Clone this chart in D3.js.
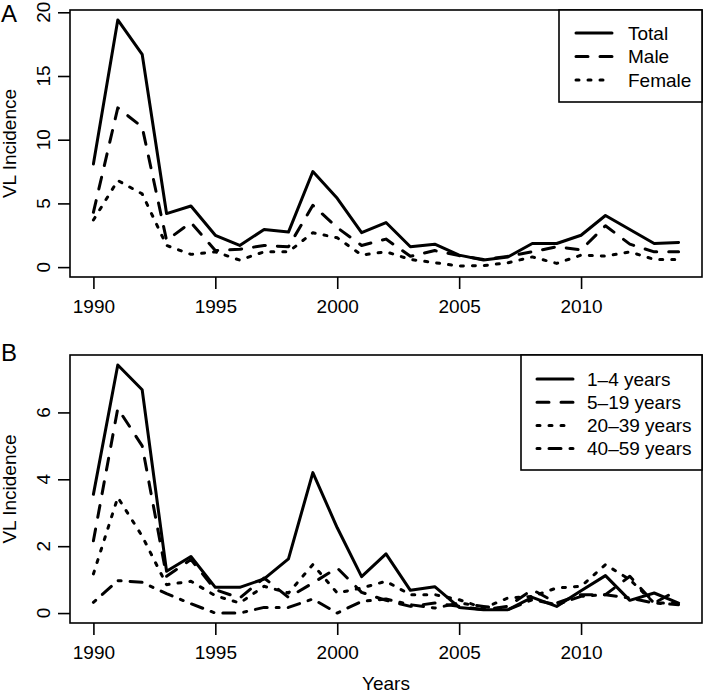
<!DOCTYPE html>
<html><head><meta charset="utf-8">
<script src="https://cdn.jsdelivr.net/npm/d3@7"></script>
<style>
body{margin:0;background:#fff;}
text{font-family:"Liberation Sans",Arial,sans-serif;fill:#000;}
</style></head>
<body><svg id="c" width="705" height="695"></svg>
<script>
// ---- data ----
const years = d3.range(1990, 2015);
const xTicks = [1990, 1995, 2000, 2005, 2010];
const yTicksA = [0, 5, 10, 15, 20];
const yTicksB = [0, 2, 4, 6];

const seriesNamesA = ["Total", "Male", "Female"];
const total  = [8.1,19.4,16.7,4.2,4.8,2.5,1.7,2.95,2.75,7.5,5.4,2.7,3.5,1.6,1.8,0.94,0.55,0.8,1.85,1.85,2.5,4.05,2.95,1.85,1.93];
const male   = [4.3,12.5,11.0,2.1,3.5,1.3,1.4,1.7,1.6,4.85,3.1,1.7,2.2,0.85,1.3,0.9,0.6,0.85,1.2,1.6,1.35,3.25,1.8,1.2,1.2];
const female = [3.7,6.8,5.75,1.7,1.0,1.2,0.55,1.2,1.2,2.7,2.3,0.95,1.2,0.6,0.35,0.08,0.12,0.34,0.8,0.29,0.94,0.86,1.2,0.6,0.6];

const seriesNamesB = ["1\u20134 years", "5\u201319 years", "20\u201339 years", "40\u201359 years"];
const age1_4   = [3.55,7.42,6.68,1.25,1.69,0.77,0.77,1.02,1.62,4.2,2.55,1.09,1.77,0.68,0.79,0.17,0.1,0.1,0.47,0.2,0.67,1.12,0.38,0.6,0.3];
const age5_19  = [2.16,6.12,5.0,1.1,1.6,0.7,0.45,1.05,0.47,0.9,1.35,0.62,0.38,0.2,0.3,0.2,0.1,0.2,0.7,0.3,0.55,0.55,1.1,0.3,0.7];
const age20_39 = [1.17,3.46,2.3,0.85,0.95,0.52,0.3,0.8,0.6,1.45,0.6,0.75,0.95,0.55,0.55,0.4,0.15,0.45,0.5,0.75,0.8,1.45,1.0,0.3,0.3];
const age40_59 = [0.32,0.97,0.92,0.58,0.28,0.0,0.0,0.17,0.17,0.42,0.0,0.35,0.42,0.25,0.15,0.3,0.2,0.1,0.4,0.25,0.5,0.55,0.45,0.3,0.25];

// ---- styles ----
const dashes = ["none", "12,12", "3,9", "3,9,12,9"];
const FS = 19;

const svg = d3.select("#c");

function panel(opts){
  const {top, bottom, left, right, yDomain, yTicks, series, names, letter, legend} = opts;
  const x = d3.scaleLinear().domain([1989.04, 2014.96]).range([left, right]);
  const y = d3.scaleLinear().domain(yDomain).range([bottom, top]);
  const g = svg.append("g");

  const line = d3.line().x((d,i)=>x(years[i])).y(d=>y(d));
  series.forEach((s,k)=>{
    g.append("path").datum(s).attr("d", line)
      .attr("fill","none").attr("stroke","#000").attr("stroke-width",3)
      .attr("stroke-linecap","round").attr("stroke-linejoin","round")
      .attr("stroke-dasharray", dashes[k]);
  });

  g.append("rect").attr("x",left).attr("y",top).attr("width",right-left).attr("height",bottom-top)
    .attr("fill","none").attr("stroke","#000").attr("stroke-width",1.6);

  const xa = d3.axisBottom(x).tickValues(xTicks).tickFormat(d3.format("d")).tickSize(12).tickPadding(6);
  const gx = g.append("g").attr("transform",`translate(0,${bottom})`).call(xa);
  gx.select(".domain").remove();
  gx.selectAll("line").attr("stroke","#000").attr("stroke-width",1.6);
  gx.selectAll("text").attr("font-size",FS).attr("font-family","Liberation Sans, Arial, sans-serif").attr("dy","0.95em");

  const ya = d3.axisLeft(y).tickValues(yTicks).tickSize(12).tickFormat(d3.format("d"));
  const gy = g.append("g").attr("transform",`translate(${left},0)`).call(ya);
  gy.select(".domain").remove();
  gy.selectAll("line").attr("stroke","#000").attr("stroke-width",1.6);
  gy.selectAll("text").remove();
  yTicks.forEach(t=>{
    g.append("text").attr("transform",`translate(50,${y(t)}) rotate(-90)`)
      .attr("text-anchor","middle").attr("font-size",FS).text(t);
  });

  g.append("text").attr("transform",`translate(16,${(top+bottom)/2}) rotate(-90)`)
    .attr("text-anchor","middle").attr("font-size",FS).text("VL Incidence");

  g.append("text").attr("x",1).attr("y",letter.y).attr("font-size",24).text(letter.t);

  const L = legend;
  g.append("rect").attr("x",L.x).attr("y",top).attr("width",right-L.x).attr("height",L.h)
    .attr("fill","#fff").attr("stroke","#000").attr("stroke-width",1.6);
  names.forEach((n,k)=>{
    const cy = L.y0 + k*L.dy;
    g.append("line").attr("x1",L.lx1).attr("x2",L.lx2).attr("y1",cy).attr("y2",cy)
      .attr("stroke","#000").attr("stroke-width",3).attr("stroke-linecap","round")
      .attr("stroke-dasharray",dashes[k]);
    g.append("text").attr("x",L.tx).attr("y",cy+6.8).attr("font-size",FS).text(n);
  });
  return {x,y};
}

panel({top:10, bottom:277, left:70, right:702, yDomain:[-0.776, 20.18], yTicks:yTicksA,
  series:[total, male, female], names:seriesNamesA, letter:{t:"A", y:22},
  legend:{x:559, h:92, y0:33, dy:23.5, lx1:576, lx2:612, tx:628}});

panel({top:355, bottom:623, left:70, right:702, yDomain:[-0.297, 7.717], yTicks:yTicksB,
  series:[age1_4, age5_19, age20_39, age40_59], names:seriesNamesB, letter:{t:"B", y:361},
  legend:{x:521, h:115, y0:379, dy:23.2, lx1:537, lx2:573, tx:587}});

svg.append("text").attr("x",386).attr("y",690).attr("text-anchor","middle").attr("font-size",FS).text("Years");
</script></body></html>
